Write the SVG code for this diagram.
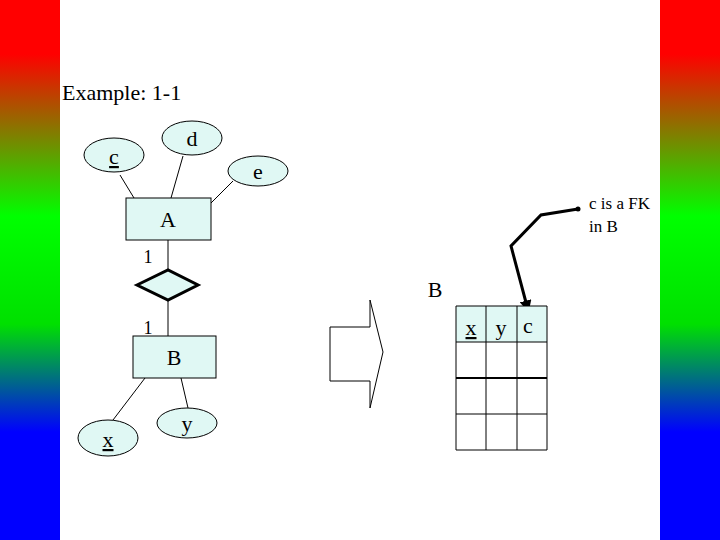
<svg xmlns="http://www.w3.org/2000/svg" width="720" height="540" viewBox="0 0 720 540" font-family="'Liberation Serif', 'Times New Roman', 'DejaVu Serif', serif">
<defs>
<linearGradient id="g" x1="0" y1="0" x2="0" y2="1">
<stop offset="0" stop-color="#ff0000"/><stop offset="0.1" stop-color="#ff0000"/><stop offset="0.4" stop-color="#00ff00"/><stop offset="0.6" stop-color="#00e000"/><stop offset="0.8" stop-color="#0000ff"/><stop offset="1" stop-color="#0000ff"/>
</linearGradient>
<marker id="ah" viewBox="0 0 10 10" refX="8" refY="5" markerWidth="4" markerHeight="4" orient="auto"><path d="M0,0L10,5L0,10z" fill="#000"/></marker>
<style>
text{font-family:'Liberation Serif','Times New Roman','DejaVu Serif',serif;fill:#000}
.s{fill:#e0f8f4;stroke:#000;stroke-width:1}
.l{stroke:#000;stroke-width:1;fill:none}
</style>
</defs>
<rect width="720" height="540" fill="#fff"/>
<rect x="0" y="0" width="60" height="540" fill="url(#g)"/>
<rect x="660" y="0" width="60" height="540" fill="url(#g)"/>
<text x="62" y="100" font-size="22">Example: 1-1</text>
<g id="connectors">
<path class="l" d="M120,175L134,198M183,156L171,198M233,181L211,203M168,240V270M168,300V336M145,378L113,420M181,378L188,408"/>
<path d="M578,209L541,215L511,246L528,310" fill="none" stroke="#000" stroke-width="3" marker-end="url(#ah)"/>
<circle cx="578" cy="209" r="2.5" fill="#000"/>
</g>
<g id="c"><ellipse class="s" cx="114" cy="155" rx="30" ry="17"/><text x="114" y="164" font-size="22" text-anchor="middle" text-decoration="underline">c</text></g>
<g id="d"><ellipse class="s" cx="192" cy="138" rx="30" ry="17"/><text x="192" y="146" font-size="22" text-anchor="middle">d</text></g>
<g id="e"><ellipse class="s" cx="258" cy="171" rx="30" ry="15"/><text x="258" y="179" font-size="22" text-anchor="middle">e</text></g>
<g id="A"><rect class="s" x="126" y="198" width="85" height="42"/><text x="168" y="227" font-size="22" text-anchor="middle">A</text></g>
<g id="rel"><polygon points="137,285 168,270 198,285 168,300" fill="#e0f8f4" stroke="#000" stroke-width="3"/></g>
<text x="148" y="263" font-size="18" text-anchor="middle">1</text>
<text x="148" y="334" font-size="18" text-anchor="middle">1</text>
<g id="B"><rect class="s" x="133" y="336" width="83" height="42"/><text x="174" y="365" font-size="22" text-anchor="middle">B</text></g>
<g id="x"><ellipse class="s" cx="108" cy="438" rx="30" ry="18"/><text x="108" y="447" font-size="22" text-anchor="middle" text-decoration="underline">x</text></g>
<g id="y"><ellipse class="s" cx="187" cy="423" rx="30" ry="15"/><text x="187" y="431" font-size="22" text-anchor="middle">y</text></g>
<g id="bigarrow"><polygon points="330,327 370,327 370,300 383,352 370,408 370,381 330,381" fill="#fff" stroke="#000" stroke-width="1"/></g>
<g id="table">
<text x="435" y="297" font-size="22" text-anchor="middle">B</text>
<rect x="456" y="306" width="91" height="36" fill="#e0f8f4"/>
<path class="l" d="M456,306H547V450H456ZM486,306V450M517,306V450M456,342H547M456,414H547"/>
<path d="M456,378H547" stroke="#000" stroke-width="2"/>
<text x="471" y="335" font-size="22" text-anchor="middle" text-decoration="underline">x</text>
<text x="501" y="335" font-size="22" text-anchor="middle">y</text>
<text x="528" y="333" font-size="22" text-anchor="middle">c</text>
</g>
<text x="589" y="209" font-size="17">c is a FK</text>
<text x="589" y="232" font-size="17">in B</text>
</svg>
